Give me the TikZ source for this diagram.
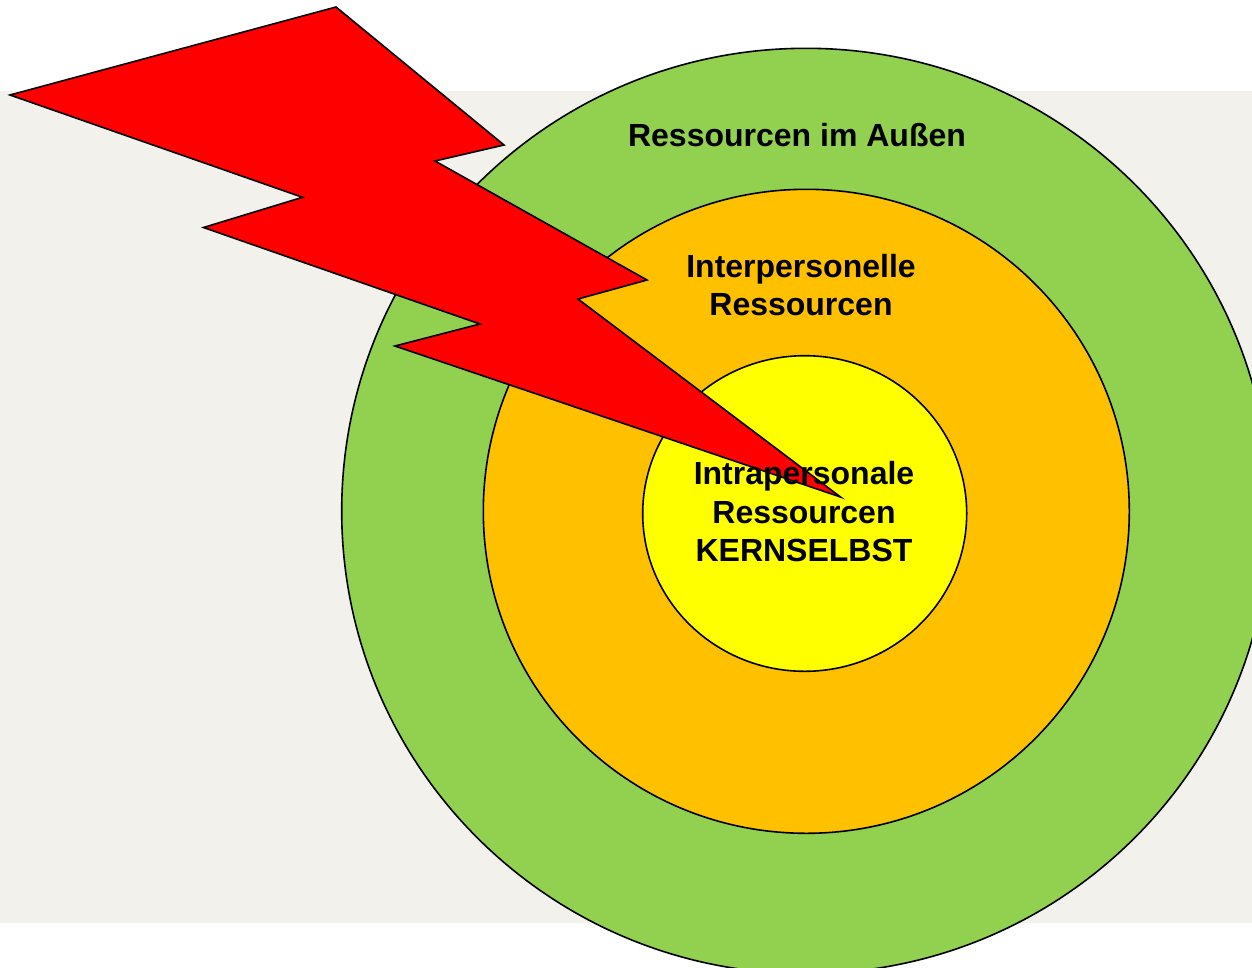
\documentclass[tikz,border=0pt]{standalone}
\usepackage{fontspec}
\setmainfont{Liberation Sans}
\usetikzlibrary{shapes.geometric}
\definecolor{bgc}{HTML}{F2F1EC}
\definecolor{outerc}{HTML}{92D050}
\definecolor{midc}{HTML}{FFC000}
\definecolor{innerc}{HTML}{FFFF00}
\definecolor{boltc}{HTML}{FF0000}
\tikzset{
  ring/.style={draw=black, line width=1.2pt},
  lbl/.style={font=\bfseries\fontsize{24}{28.9}\selectfont, align=center, text=black, inner sep=0pt},
  bolt/.style={draw=black, fill=boltc, line width=1.2pt, line join=miter}
}
\begin{document}
\begin{tikzpicture}[x=0.75pt,y=-0.75pt]
\useasboundingbox (0,0) rectangle (1252,967);
\clip (0,0) rectangle (1252,967);
\fill[white] (0,0) rectangle (1252,967);
\fill[bgc] (0,91) rectangle (1252,923);
\draw[ring, fill=outerc] (806,511) ellipse [x radius=464.3, y radius=462.7];
\draw[ring, fill=midc] (806.3,511.3) ellipse [x radius=323, y radius=322];
\draw[ring, fill=innerc] (804.7,513.5) ellipse [x radius=162, y radius=157.8];
\draw[bolt] (10,95) -- (336,7) -- (504,145) -- (435,161) -- (647,280) -- (578,299)
  -- (840.5,497) -- (395,346) -- (480,324) -- (203.5,227.5) -- (302.5,197.3) -- cycle;
\node[lbl] (outer) at (797,135) {Ressourcen im Außen};
\node[lbl] (mid) at (801,285) {Interpersonelle\\Ressourcen};
\node[lbl] (inner) at (804,512) {Intrapersonale\\Ressourcen\\KERNSELBST};
\end{tikzpicture}
\end{document}
